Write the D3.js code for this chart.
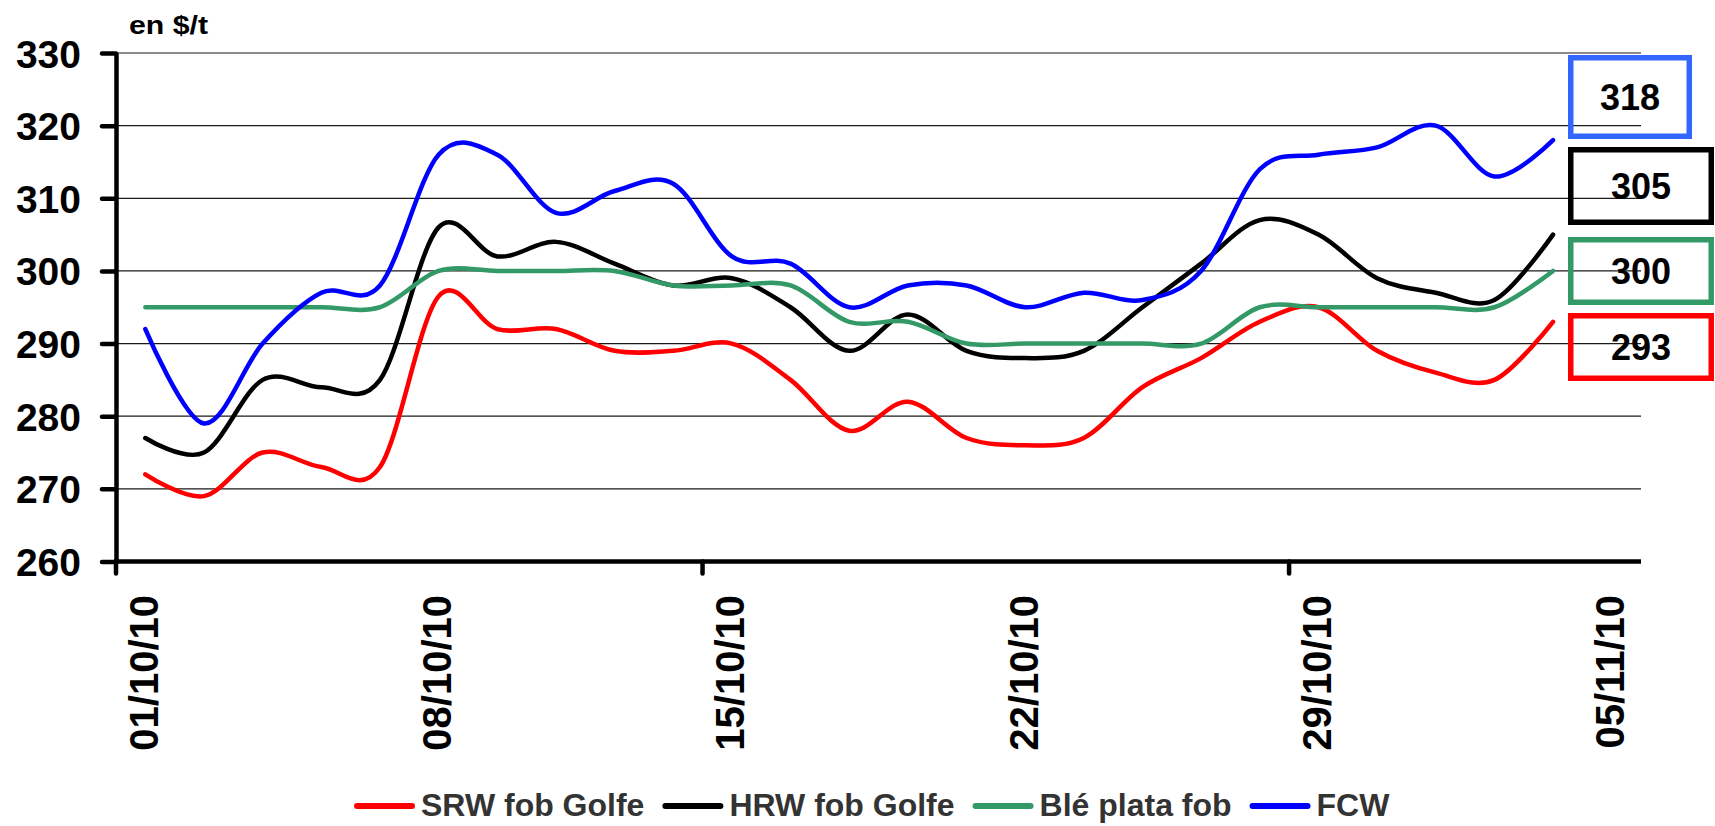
<!DOCTYPE html>
<html>
<head>
<meta charset="utf-8">
<script src="https://cdn.jsdelivr.net/npm/d3@7"></script>
<style>
  body { margin: 0; background: #fff; }
  svg { display: block; font-family: "Liberation Sans", Arial, sans-serif; font-weight: bold; }
</style>
</head>
<body>
<div id="chart"></div>
<script>
// business days, one category each (05/11 has a label but no price yet)
var dates = ["01/10/10","04/10/10","05/10/10","06/10/10","07/10/10","08/10/10",
             "11/10/10","12/10/10","13/10/10","14/10/10","15/10/10",
             "18/10/10","19/10/10","20/10/10","21/10/10","22/10/10",
             "25/10/10","26/10/10","27/10/10","28/10/10","29/10/10",
             "01/11/10","02/11/10","03/11/10","04/11/10","05/11/10"];

var srw   = [272,269,275,273,273,296.5,292,292,289,289,290,285,278,282,277,276,277,284,288,293,295,289,286,285,293];
var hrw   = [277,275,285,284,285,306,302,304,301,298,299,295,289,294,289,288,289,295,301,307,305,299,297,296,305];
var plata = [295,295,295,295,295,300,300,300,300,298,298,298,293,293,290,290,290,290,290,295,295,295,295,295,300];
var fcw   = [292,279,290,297,298,316,316,308,311,312,302,301,295,298,298,295,297,296,300,314,316,317,320,313,318];

var seriesNames = ["SRW fob Golfe", "HRW fob Golfe", "Blé plata fob", "FCW"];
var yTicks = [260, 270, 280, 290, 300, 310, 320, 330];
var unitLabel = "en $/t";

var series = [
  { name: seriesNames[0], values: srw,   color: "#ff0000", boxColor: "#ff0000" },
  { name: seriesNames[1], values: hrw,   color: "#000000", boxColor: "#000000" },
  { name: seriesNames[2], values: plata, color: "#339966", boxColor: "#339966" },
  { name: seriesNames[3], values: fcw,   color: "#0000ff", boxColor: "#3366ff" }
];

var width = 1715, height = 826;
var plotLeft = 116, plotRight = 1641, plotTop = 53, plotBottom = 561.5;

var svg = d3.select("#chart").append("svg")
    .attr("width", width)
    .attr("height", height);

var x = d3.scaleBand().domain(dates).range([plotLeft, plotRight]).paddingInner(0).paddingOuter(0);
var y = d3.scaleLinear().domain([260, 330]).range([plotBottom, plotTop]);
var xc = function(d) { return x(d) + x.bandwidth() / 2; };

// gridlines
svg.append("g")
    .attr("class", "grid")
    .selectAll("line")
    .data(yTicks.filter(function(t) { return t != 260; }))
    .enter().append("line")
    .attr("x1", plotLeft)
    .attr("x2", plotRight)
    .attr("y1", function(d) { return y(d); })
    .attr("y2", function(d) { return y(d); })
    .attr("stroke", "#1a1a1a")
    .attr("stroke-width", 1.2);

// y axis
var yAxis = svg.append("g")
    .attr("transform", "translate(" + plotLeft + ",0)")
    .call(d3.axisLeft(y).tickValues(yTicks).tickSize(14).tickSizeOuter(0).tickPadding(21));
yAxis.select(".domain").attr("stroke", "#000").attr("stroke-width", 4.5);
yAxis.selectAll(".tick line").attr("stroke", "#000").attr("stroke-width", 4.5).attr("stroke-linecap", "round");
yAxis.selectAll(".tick text")
    .attr("fill", "#000")
    .style("font-size", "39px")
    .style("font-weight", "bold")
    .style("font-family", "'Liberation Sans', Arial, sans-serif")
    .attr("dy", "0.36em");

svg.append("text")
    .attr("x", 129)
    .attr("y", 34)
    .attr("textLength", 79)
    .attr("lengthAdjust", "spacingAndGlyphs")
    .style("font-size", "26px")
    .attr("fill", "#000")
    .text(unitLabel);

// x axis: line, ticks every 10 categories, labels every 5
svg.append("line")
    .attr("x1", plotLeft - 2).attr("x2", plotRight)
    .attr("y1", plotBottom).attr("y2", plotBottom)
    .attr("stroke", "#000").attr("stroke-width", 4.5);

svg.append("g").selectAll("line")
    .data(dates.filter(function(d, i) { return i % 10 == 0; }))
    .enter().append("line")
    .attr("x1", function(d) { return x(d); })
    .attr("x2", function(d) { return x(d); })
    .attr("y1", plotBottom)
    .attr("y2", plotBottom + 12)
    .attr("stroke", "#000")
    .attr("stroke-width", 4.5)
    .attr("stroke-linecap", "round");

svg.append("g").selectAll("text")
    .data(dates.filter(function(d, i) { return i % 5 == 0; }))
    .enter().append("text")
    .attr("transform", function(d) { return "translate(" + (xc(d) - 2) + "," + 595 + ") rotate(-90)"; })
    .attr("text-anchor", "end")
    .attr("dy", "0.36em")
    .style("font-size", "40px")
    .attr("fill", "#000")
    .text(function(d) { return d; });

// lines
var line = d3.line()
    .x(function(d, i) { return xc(dates[i]); })
    .y(function(d) { return y(d); })
    .curve(d3.curveCatmullRom.alpha(0));

svg.append("g").selectAll("path")
    .data(series)
    .enter().append("path")
    .attr("d", function(s) { return line(s.values); })
    .attr("fill", "none")
    .attr("stroke", function(s) { return s.color; })
    .attr("stroke-width", 4.5)
    .attr("stroke-linejoin", "round")
    .attr("stroke-linecap", "round");

// last-value boxes on the right (top to bottom: FCW, HRW, plata, SRW)
var boxes = [
  { s: series[3], x0: 1568, x1: 1692, y0: 55,  y1: 139 },
  { s: series[1], x0: 1568, x1: 1714, y0: 147, y1: 225 },
  { s: series[2], x0: 1568, x1: 1714, y0: 237, y1: 305 },
  { s: series[0], x0: 1568, x1: 1714, y0: 313, y1: 381 }
];
var bw = 5.5;
var bg = svg.append("g").selectAll("g").data(boxes).enter().append("g");
bg.append("rect")
    .attr("x", function(b) { return b.x0 + bw / 2; })
    .attr("y", function(b) { return b.y0 + bw / 2; })
    .attr("width", function(b) { return b.x1 - b.x0 - bw; })
    .attr("height", function(b) { return b.y1 - b.y0 - bw; })
    .attr("fill", "none")
    .attr("stroke", function(b) { return b.s.boxColor; })
    .attr("stroke-width", bw);
bg.append("text")
    .attr("x", function(b) { return (b.x0 + b.x1) / 2; })
    .attr("y", function(b) { return (b.y0 + b.y1) / 2; })
    .attr("text-anchor", "middle")
    .attr("dy", "0.36em")
    .style("font-size", "36px")
    .attr("fill", "#000")
    .text(function(b) { return b.s.values[b.s.values.length - 1]; });

// legend
var lx = 354, ly = 806;
series.forEach(function(s) {
  svg.append("line")
      .attr("x1", lx + 3).attr("x2", lx + 58)
      .attr("y1", ly).attr("y2", ly)
      .attr("stroke", s.color)
      .attr("stroke-width", 6)
      .attr("stroke-linecap", "round");
  var t = svg.append("text")
      .attr("x", lx + 67)
      .attr("y", ly + 10)
      .style("font-size", "32px")
      .attr("fill", "#333")
      .text(s.name);
  lx += 67 + t.node().getComputedTextLength() + 18;
});
</script>
</body>
</html>
